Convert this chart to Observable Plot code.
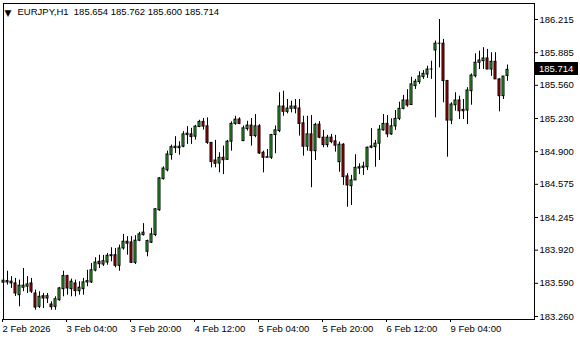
<!DOCTYPE html>
<html><head><meta charset="utf-8">
<script src="https://cdn.jsdelivr.net/npm/d3@7"></script>
<script src="https://cdn.jsdelivr.net/npm/@observablehq/plot@0.6"></script>
<style>
html,body{margin:0;padding:0;background:#fff;}
#chart svg{display:block;}
</style>
</head><body><div id="chart"></div>
<script>
const symbol = "EURJPY,H1";
const opens = [
183.596,183.599,183.589,183.589,183.472,183.546,183.556,183.589,183.489,183.356,
183.462,183.439,183.379,183.356,183.422,183.532,183.662,183.532,183.589,183.512,
183.532,183.599,183.599,183.717,183.804,183.777,183.797,183.860,183.870,183.764,
183.937,184.004,183.997,183.794,184.014,184.070,183.904,183.994,184.070,184.317,
184.627,184.715,184.865,184.935,184.935,184.949,185.065,185.072,185.049,185.145,
185.196,185.152,184.987,184.812,184.782,184.839,184.819,184.999,185.176,185.219,
185.005,185.125,185.159,185.055,185.152,184.889,184.839,184.839,185.065,185.105,
185.349,185.296,185.326,185.349,185.329,185.182,184.949,185.072,184.905,185.169,
185.039,184.965,185.039,185.002,184.795,184.969,184.654,184.557,184.614,184.732,
184.739,184.745,184.939,184.945,184.979,185.112,185.176,185.072,185.152,185.226,
185.326,185.409,185.364,185.552,185.592,185.642,185.667,185.717,185.907,185.974,
185.974,185.602,185.209,185.362,185.409,185.302,185.309,185.502,185.650,185.784,
185.800,185.827,185.717,185.794,185.619,185.452,185.654];
const highs = [
183.777,183.710,183.656,183.639,183.622,183.737,183.656,183.639,183.522,183.506,
183.489,183.489,183.406,183.456,183.549,183.710,183.670,183.632,183.622,183.606,
183.639,183.720,183.787,183.844,183.870,183.867,183.887,183.944,183.937,183.970,
184.077,184.054,184.054,184.064,184.097,184.184,184.020,184.137,184.334,184.641,
184.749,184.905,184.965,185.049,184.999,185.099,185.149,185.132,185.162,185.212,
185.229,185.236,184.989,185.012,184.889,184.955,185.012,185.196,185.252,185.236,
185.155,185.202,185.229,185.269,185.169,184.905,184.922,185.072,185.155,185.486,
185.502,185.419,185.402,185.419,185.419,185.252,185.252,185.259,185.182,185.199,
185.112,185.062,185.072,185.062,184.995,184.979,184.681,184.664,184.869,184.779,
184.795,184.945,185.129,185.012,185.159,185.269,185.259,185.226,185.309,185.392,
185.459,185.516,185.640,185.619,185.694,185.707,185.750,185.800,186.000,186.215,
186.017,185.609,185.386,185.486,185.452,185.419,185.536,185.673,185.874,185.900,
185.934,185.917,185.884,185.884,185.626,185.647,185.762];
const lows = [
183.529,183.572,183.539,183.459,183.356,183.506,183.489,183.489,183.322,183.339,
183.339,183.389,183.322,183.322,183.412,183.456,183.472,183.456,183.456,183.472,
183.472,183.556,183.589,183.704,183.737,183.757,183.770,183.804,183.744,183.710,
183.920,183.870,183.787,183.777,184.004,184.060,183.854,183.987,184.054,184.307,
184.617,184.699,184.815,184.882,184.865,184.939,184.972,184.972,185.015,185.139,
185.115,184.972,184.739,184.739,184.689,184.672,184.812,184.905,185.162,185.169,
184.999,185.105,184.955,185.039,184.872,184.689,184.839,184.822,184.879,185.089,
185.252,185.276,185.286,185.276,185.055,184.855,184.905,184.541,184.812,185.029,
184.939,184.939,184.979,184.895,184.695,184.564,184.347,184.364,184.614,184.672,
184.664,184.712,184.929,184.745,184.812,185.105,185.039,185.062,185.112,185.209,
185.316,185.342,185.359,185.519,185.569,185.619,185.629,185.619,185.236,185.734,
185.386,184.845,185.169,185.302,185.219,185.219,185.169,185.362,185.634,185.717,
185.717,185.717,185.650,185.619,185.296,185.419,185.600];
const closes = [
183.616,183.612,183.606,183.489,183.566,183.566,183.579,183.506,183.349,183.456,
183.439,183.462,183.352,183.432,183.539,183.662,183.539,183.606,183.512,183.546,
183.599,183.612,183.720,183.797,183.780,183.810,183.864,183.870,183.764,183.937,
184.004,183.984,183.794,184.014,184.077,184.094,184.010,184.077,184.327,184.634,
184.732,184.872,184.945,184.949,184.949,185.072,185.079,185.045,185.149,185.196,
185.149,184.987,184.797,184.779,184.839,184.815,184.999,185.176,185.219,185.176,
185.132,185.159,185.055,185.152,184.882,184.839,184.845,185.065,185.112,185.349,
185.296,185.329,185.349,185.326,185.176,184.949,185.072,184.905,185.166,185.039,
184.965,185.039,184.995,184.959,184.969,184.647,184.564,184.614,184.739,184.745,
184.752,184.939,184.952,184.979,185.119,185.176,185.072,185.152,185.226,185.326,
185.409,185.359,185.569,185.596,185.649,185.674,185.717,185.717,185.974,185.974,
185.602,185.209,185.369,185.409,185.302,185.316,185.509,185.657,185.784,185.807,
185.827,185.717,185.794,185.619,185.452,185.647,185.714];
const xTickBars = [0, 16, 32, 48, 64, 80, 96, 112];
const xTickLabels = ["2 Feb 2026", "3 Feb 04:00", "3 Feb 20:00", "4 Feb 12:00",
                     "5 Feb 04:00", "5 Feb 20:00", "6 Feb 12:00", "9 Feb 04:00"];
const yTicks = [183.260, 183.590, 183.920, 184.245, 184.575, 184.900, 185.230, 185.560, 185.885, 186.215];

const bars = opens.map((o, i) => ({i, o, h: highs[i], l: lows[i], c: closes[i]}));
const last = bars[bars.length - 1];
const fmt = v => v.toFixed(3);
const header = `${symbol}\u00a0\u00a0${fmt(last.o)} ${fmt(last.h)} ${fmt(last.l)} ${fmt(last.c)}`;
const UP = "#33cc33", DOWN = "#d40000";
const FONT = "'Liberation Sans', Arial, sans-serif";

const priceBox = (index, scales, values, dims) => {
  const y = Math.round(scales.y(last.c));
  const x0 = dims.width - dims.marginRight + 1;
  const g = d3.create("svg:g");
  g.append("rect").attr("x", x0).attr("y", y - 7).attr("width", 43).attr("height", 13).attr("fill", "black");
  g.append("text").attr("x", x0 + 4).attr("y", y).attr("dy", "0.35em").attr("text-anchor", "start")
    .attr("fill", "white").attr("font-size", 9.5).attr("font-family", FONT).text(fmt(last.c));
  return g.node();
};

const chart = Plot.plot({
  width: 580, height: 340,
  marginLeft: 3, marginRight: 46, marginTop: 3, marginBottom: 21,
  style: {fontFamily: FONT, fontSize: "9.5px", background: "white", color: "black", overflow: "visible"},
  x: {domain: [0, 132.75]},
  y: {domain: [183.230, 186.374]},
  marks: [
    Plot.ruleX(bars, {x: "i", y1: "l", y2: "h", stroke: "black", strokeWidth: 1}),
    Plot.rect(bars, {x1: d => d.i - 0.375, x2: d => d.i + 0.375, y1: "o", y2: "c",
      fill: "black", insetTop: -0.5, insetBottom: -0.5}),
    Plot.rect(bars.filter(d => d.c !== d.o), {x1: d => d.i - 0.375, x2: d => d.i + 0.375, y1: "o", y2: "c",
      fill: d => d.c > d.o ? UP : DOWN, insetLeft: 1, insetRight: 1, insetTop: 0.5, insetBottom: 0.5}),
    Plot.frame({stroke: "black"}),
    Plot.axisY(yTicks, {anchor: "right", tickSize: 3, tickPadding: 2, tickFormat: fmt, label: null, fontSize: 9.5}),
    Plot.axisX(xTickBars, {anchor: "bottom", tickSize: 3, tickPadding: 3, textAnchor: "start", dx: -1,
      tickFormat: d => xTickLabels[xTickBars.indexOf(d)], label: null, fontSize: 9.5}),
    Plot.text(["\u25BC"], {frameAnchor: "top-left", dx: 1, dy: 6, fontSize: 9, fontFamily: "DejaVu Sans", textAnchor: "start", lineAnchor: "top"}),
    Plot.text([header], {frameAnchor: "top-left", dx: 14, dy: 5, fontSize: 9.5, textAnchor: "start", lineAnchor: "top"}),
    priceBox
  ]
});
document.getElementById("chart").appendChild(chart);
</script>
</body></html>
